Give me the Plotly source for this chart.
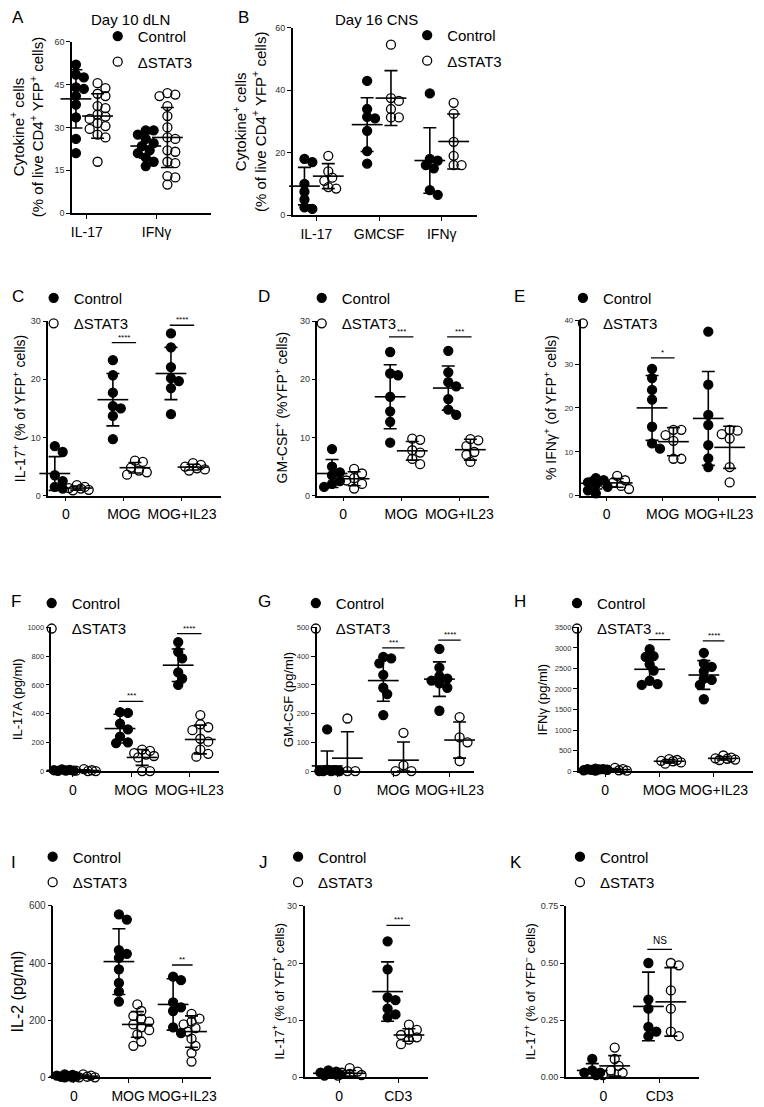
import plotly.graph_objects as go

W, H = 764, 1107
FONT = "Liberation Sans, Arial, Helvetica, sans-serif"

# ------------------------------------------------------------------ data
A_groups = ["IL-17", "IFNγ"]
A_ctrl = [[52, 48.5, 47.5, 44, 43.5, 41, 38, 33.5, 26, 21],
          [29, 29, 27.5, 26, 24.5, 23.5, 22, 21, 19.5, 18, 16.5]]
A_stat3 = [[45.5, 43.8, 41.8, 41, 37.5, 36.8, 34.5, 33.8, 33, 31.5, 30.5, 29.5, 27.5, 26.5, 18],
           [42, 41.5, 41, 37.5, 34, 30, 26.5, 26, 22, 21.5, 18, 17.5, 13, 12.5, 10]]
A_ctrl_mean, A_ctrl_sd = [40, 23.5], [10.2, 4.3]
A_stat3_mean, A_stat3_sd = [34, 26.5], [7.8, 10.5]

B_groups = ["IL-17", "GMCSF", "IFNγ"]
B_ctrl = [[18, 17, 10, 7.5, 5, 2.5, 2],
          [43, 34, 31.5, 31, 27, 20.5, 16.5],
          [39, 18, 17.5, 16, 15, 8, 6.5]]
B_stat3 = [[19, 14, 12, 11, 9, 8.5],
           [54.6, 37.5, 36.6, 34, 31.3, 31.3],
           [36, 32.5, 23.5, 19, 16, 16]]
B_ctrl_mean, B_ctrl_sd = [9.3, 29, 17.5], [6, 8.6, 10.5]
B_stat3_mean, B_stat3_sd = [12.5, 37.5, 23.6], [4, 8.8, 8.8]

STIM_groups = ["0", "MOG", "MOG+IL23"]

C_ctrl = [[8.5, 7.5, 3.5, 2.5, 1.5, 1.2, 1], [23.3, 20.7, 17.7, 15.4, 15, 13.7, 9.7],
          [27.9, 25.5, 22.1, 20.2, 19.7, 18.5, 14]]
C_stat3 = [[1.8, 1.5, 1.3, 1.2, 1.0, 0.9], [6, 5.8, 4.8, 4.3, 4, 3.6], [5.6, 5.3, 5, 4.7, 4.5, 4.3]]
C_ctrl_mean, C_ctrl_sd = [3.8, 16.5, 21], [2.9, 4.5, 4.5]
C_stat3_mean, C_stat3_sd = [1.3, 4.8, 4.9], [0.35, 0.9, 0.5]
C_sig = [(1, 26.3, "****"), (2, 29.3, "****")]

D_ctrl = [[8, 5, 4, 3.5, 2.5, 2, 1.5], [24.7, 21, 20.7, 17, 14.5, 12.7, 9.1],
          [24.9, 21.2, 19.5, 18.8, 16.6, 14.8, 13.9]]
D_stat3 = [[4.6, 3.8, 3, 2.6, 2, 1.2], [9.8, 9.6, 7.8, 7.4, 6.3, 5.4], [9.7, 9.5, 8.5, 7.5, 7.0, 5.8]]
D_ctrl_mean, D_ctrl_sd = [3.8, 17, 18.5], [2.4, 5.5, 3.8]
D_stat3_mean, D_stat3_sd = [2.9, 7.7, 7.9], [1.2, 1.6, 1.8]
D_sig = [(1, 27.3, "***"), (2, 27.3, "***")]

E_ctrl = [[4, 3.5, 3, 2.5, 2, 1.2, 0.5], [28.9, 26.8, 24.1, 21.9, 15.7, 11.9, 10.7],
          [37.4, 25.3, 18.4, 16.1, 11.5, 8.5, 6.5]]
E_stat3 = [[4.5, 3.5, 3, 2.7, 2.2, 1.5], [15, 15, 13.8, 12.5, 8.4, 8.4], [15, 14.8, 14, 13, 6.5, 3]]
E_ctrl_mean, E_ctrl_sd = [2.8, 20, 17.6], [1.3, 7.4, 10.7]
E_stat3_mean, E_stat3_sd = [2.9, 12.3, 11], [1.0, 3.2, 4.8]
E_sig = [(1, 31.4, "*")]

F_ctrl = [[12, 8, 6, 4, 3, 2, 0], [410, 405, 330, 290, 240, 200, 195], [898, 830, 784, 687, 644, 600]]
F_stat3 = [[14, 6, 3, 0, 0], [150, 140, 125, 115, 105, 95, 0, 0], [390, 325, 305, 285, 225, 205, 150, 120, 100]]
F_ctrl_mean, F_ctrl_sd = [5, 296, 737], [4, 100, 113]
F_stat3_mean, F_stat3_sd = [4, 95, 220], [5, 55, 100]
F_sig = [(1, 485, "***"), (2, 956, "****")]

G_ctrl = [[145, 5, 3, 0, 0, 0, 0, 0], [397, 392, 375, 335, 290, 268, 195],
          [425, 360, 330, 322, 315, 305, 290, 210]]
G_stat3 = [[183, 0, 0, 0], [133, 20, 0, 0], [188, 117, 100, 35]]
G_ctrl_mean, G_ctrl_sd = [18, 315, 320], [52, 72, 60]
G_stat3_mean, G_stat3_sd = [45, 38, 108], [92, 63, 63]
G_sig = [(1, 429, "***"), (2, 456, "****")]

H_ctrl = [[60, 50, 45, 40, 35, 30, 20, 10], [2970, 2800, 2780, 2600, 2450, 2200, 2120, 2100],
          [2880, 2620, 2540, 2430, 2250, 2220, 2100, 1750]]
H_stat3 = [[80, 50, 30, 20, 10], [290, 270, 250, 240, 210, 180], [380, 330, 310, 300, 280, 270]]
H_ctrl_mean, H_ctrl_sd = [30, 2480, 2340], [15, 340, 350]
H_stat3_mean, H_stat3_sd = [35, 240, 310], [25, 40, 40]
H_sig = [(1, 3200, "***"), (2, 3170, "****")]

I_ctrl = [[10, 8, 6, 4, 3, 2, 1, 0, 0], [570, 552, 445, 432, 418, 378, 330, 300, 265],
          [352, 340, 262, 245, 232, 175, 155]]
I_stat3 = [[10, 6, 4, 2, 0, 0], [255, 232, 215, 205, 195, 185, 175, 165, 150, 125, 110],
           [222, 205, 195, 185, 172, 160, 135, 110, 85, 55]]
I_ctrl_mean, I_ctrl_sd = [3, 405, 255], [4, 115, 90]
I_stat3_mean, I_stat3_sd = [4, 185, 160], [4, 45, 55]
I_sig = [(1, 607, "****"), (2, 393, "**")]

CD3_groups = ["0", "CD3"]
J_ctrl = [[1.2, 1.0, 0.8, 0.6, 0.5, 0.3], [23.8, 18.9, 14, 13.5, 12, 11, 10.5]]
J_stat3 = [[1.6, 1.0, 0.8, 0.6, 0.4, 0.3], [9.2, 8.3, 7.8, 7.4, 7, 6.6, 5.8]]
J_ctrl_mean, J_ctrl_sd = [0.7, 15], [0.35, 5.2]
J_stat3_mean, J_stat3_sd = [0.7, 7.4], [0.5, 1.1]
J_sig = [(1, 26.6, "***")]

K_ctrl = [[0.08, 0.03, 0.02, 0.02, 0.01], [0.5, 0.34, 0.3, 0.22, 0.2, 0.18]]
K_stat3 = [[0.13, 0.08, 0.05, 0.03, 0.02, 0.01], [0.5, 0.49, 0.38, 0.3, 0.2, 0.18]]
K_ctrl_mean, K_ctrl_sd = [0.03, 0.31], [0.03, 0.15]
K_stat3_mean, K_stat3_sd = [0.05, 0.33], [0.045, 0.15]
K_sig = [(1, 0.56, "NS")]

# ------------------------------------------------------------------ layout of panels (pixels)
PANELS = [
    dict(letter="A", groups=A_groups, ctrl=A_ctrl, st=A_stat3, cm=A_ctrl_mean, cs=A_ctrl_sd,
         sm=A_stat3_mean, ss=A_stat3_sd, sig=[], geom=(64, 205, 29, 202), xr=(-0.21, 1.78),
         off=0.155, ymax=60, yt=[0, 15, 30, 45, 60], ytf=9,
         title="Cytokine<sup>+</sup> cells<br>(% of live CD4<sup>+</sup> YFP<sup>+</sup> cells)",
         tx=18, tfs=15, lp=(1, 5), leg=(110, 21)),
    dict(letter="B", groups=B_groups, ctrl=B_ctrl, st=B_stat3, cm=B_ctrl_mean, cs=B_ctrl_sd,
         sm=B_stat3_mean, ss=B_stat3_sd, sig=[], geom=(288, 475, 15, 204), xr=(-0.375, 2.565),
         off=0.19, ymax=60, yt=[0, 20, 40, 60], ytf=9,
         title="Cytokine<sup>+</sup> cells<br>(% of live CD4<sup>+</sup> YFP<sup>+</sup> cells)",
         tx=244, tfs=15, lp=(230, 5), leg=(424, 20)),
    dict(letter="C", groups=STIM_groups, ctrl=C_ctrl, st=C_stat3, cm=C_ctrl_mean, cs=C_ctrl_sd,
         sm=C_stat3_mean, ss=C_stat3_sd, sig=C_sig, geom=(40, 215, 311, 487), xr=(-0.30, 2.67),
         off=0.19, ymax=30, yt=[0, 10, 20, 30], ytf=9,
         title="IL-17<sup>+</sup> (% of YFP<sup>+</sup> cells)", tx=11, tfs=14, lp=(1, 286), leg=(45, 285)),
    dict(letter="D", groups=STIM_groups, ctrl=D_ctrl, st=D_stat3, cm=D_ctrl_mean, cs=D_ctrl_sd,
         sm=D_stat3_mean, ss=D_stat3_sd, sig=D_sig, geom=(313, 487, 311, 487), xr=(-0.44, 2.51),
         off=0.19, ymax=30, yt=[0, 10, 20, 30], ytf=9,
         title="GM-CSF<sup>+</sup> (%YFP<sup>+</sup> cells)", tx=276, tfs=14, lp=(251, 286), leg=(317, 285)),
    dict(letter="E", groups=STIM_groups, ctrl=E_ctrl, st=E_stat3, cm=E_ctrl_mean, cs=E_ctrl_sd,
         sm=E_stat3_mean, ss=E_stat3_sd, sig=E_sig, geom=(580, 758, 310, 487), xr=(-0.46, 2.66),
         off=0.19, ymax=40, yt=[0, 10, 20, 30, 40], ytf=8,
         title="% IFNγ<sup>+</sup> (of YFP<sup>+</sup> cells)", tx=549, tfs=14, lp=(510, 286), leg=(582, 285)),
    dict(letter="F", groups=STIM_groups, ctrl=F_ctrl, st=F_stat3, cm=F_ctrl_mean, cs=F_ctrl_sd,
         sm=F_stat3_mean, ss=F_stat3_sd, sig=F_sig, geom=(43, 213, 620, 765), xr=(-0.37, 2.51),
         off=0.19, ymax=1000, yt=[0, 200, 400, 600, 800, 1000], ytf=7.5,
         title="IL-17A (pg/ml)", tx=8, tfs=13, lp=(0, 594), leg=(43, 593)),
    dict(letter="G", groups=STIM_groups, ctrl=G_ctrl, st=G_stat3, cm=G_ctrl_mean, cs=G_ctrl_sd,
         sm=G_stat3_mean, ss=G_stat3_sd, sig=G_sig, geom=(312, 472, 620, 765), xr=(-0.37, 2.44),
         off=0.18, ymax=500, yt=[0, 100, 200, 300, 400, 500], ytf=7.5,
         title="GM-CSF (pg/ml)", tx=283, tfs=13, lp=(251, 594), leg=(311, 593)),
    dict(letter="H", groups=STIM_groups, ctrl=H_ctrl, st=H_stat3, cm=H_ctrl_mean, cs=H_ctrl_sd,
         sm=H_stat3_mean, ss=H_stat3_sd, sig=H_sig, geom=(578, 755, 620, 765), xr=(-0.49, 2.73),
         off=0.18, ymax=3500, yt=[0, 500, 1000, 1500, 2000, 2500, 3000, 3500], ytf=7.5,
         title="IFNγ (pg/ml)", tx=541, tfs=13, lp=(510, 594), leg=(576, 593)),
    dict(letter="I", groups=STIM_groups, ctrl=I_ctrl, st=I_stat3, cm=I_ctrl_mean, cs=I_ctrl_sd,
         sm=I_stat3_mean, ss=I_stat3_sd, sig=I_sig, geom=(45, 205, 901, 1074), xr=(-0.38, 2.53),
         off=0.17, ymax=600, yt=[0, 200, 400, 600], ytf=10,
         title="IL-2 (pg/ml)", tx=9, tfs=16, lp=(0, 857), leg=(44, 849)),
    dict(letter="J", groups=CD3_groups, ctrl=J_ctrl, st=J_stat3, cm=J_ctrl_mean, cs=J_ctrl_sd,
         sm=J_stat3_mean, ss=J_stat3_sd, sig=J_sig, geom=(300, 425, 901, 1074), xr=(-0.58, 1.50),
         off=0.18, ymax=30, yt=[0, 10, 20, 30], ytf=9,
         title="IL-17<sup>+</sup> (% of YFP<sup>+</sup> cells)", tx=273, tfs=13, lp=(252, 857), leg=(293, 849)),
    dict(letter="K", groups=CD3_groups, ctrl=K_ctrl, st=K_stat3, cm=K_ctrl_mean, cs=K_ctrl_sd,
         sm=K_stat3_mean, ss=K_stat3_sd, sig=K_sig, geom=(565, 700, 901, 1074), xr=(-0.67, 1.70),
         off=0.2, ymax=0.75, yt=[0, 0.25, 0.5, 0.75], ytext=["0.00", "0.25", "0.50", "0.75"], ytf=9,
         title="IL-17<sup>+</sup> (% of YFP<sup>−</sup> cells)", tx=528, tfs=13, lp=(506, 857), leg=(579, 849)),
]

TITLES = [("Day 10 dLN", 123, 7), ("Day 16 CNS", 373, 7)]


def px_x(v):
    return v / W


def px_y(v):
    return 1 - v / H


def swarm(vals, center, ppx, ppy, d=8.0):
    """simple beeswarm: spread overlapping points sideways (pixels)"""
    order = sorted(range(len(vals)), key=lambda i: -vals[i])
    steps = [0, 0.5 * d, -0.5 * d, d, -d, 1.5 * d, -1.5 * d]
    placed, out = [], [center] * len(vals)
    for i in order:
        yp = vals[i] * ppy
        best, bestd = 0, -1
        for s in steps:
            md = min([((s - a) ** 2 + (yp - b) ** 2) ** 0.5 for a, b in placed] or [1e9])
            if md >= 0.92 * d:
                best = s
                break
            if md > bestd:
                best, bestd = s, md
        placed.append((best, yp))
        out[i] = center + best / ppx
    return out


fig = go.Figure()
annotations, shapes = [], []
layout = {}

for n, p in enumerate(PANELS, start=1):
    sfx = "" if n == 1 else str(n)
    xa, ya = "x" + sfx, "y" + sfx
    legname = "legend" + sfx
    xl, xr, ytop, ybot = p["geom"]
    r0, r1 = p["xr"]
    ppx = (xr - xl) / (r1 - r0)
    ppy = (ybot - ytop) / p["ymax"]
    off = p["off"]

    series = [(p["ctrl"], p["cm"], p["cs"], "Control", "circle", -1),
              (p["st"], p["sm"], p["ss"], "ΔSTAT3", "circle-open", 1)]
    for vals, mean, sd, name, sym, sign in series:
        xs, ys = [], []
        for gi, v in enumerate(vals):
            xs += swarm(v, gi + sign * off, ppx, ppy)
            ys += v
        fig.add_trace(go.Scatter(
            x=xs, y=ys, mode="markers", name=name, legend=legname, legendgroup=f"{n}{name}",
            xaxis=xa, yaxis=ya, cliponaxis=False, hoverinfo="skip",
            marker=dict(symbol=sym, size=9, color="black", line=dict(color="black", width=1.3))))
    for vals, mean, sd, name, sym, sign in series:
        gx = [gi + sign * off for gi in range(len(mean))]
        fig.add_trace(go.Scatter(
            x=gx, y=mean, mode="markers", showlegend=False, xaxis=xa, yaxis=ya, cliponaxis=False,
            hoverinfo="skip",
            marker=dict(symbol="line-ew", size=22, color="black", line=dict(color="black", width=1.6)),
            error_y=dict(type="data", array=sd, arrayminus=[min(s, m) for s, m in zip(sd, mean)],
                         visible=True, color="black", thickness=1.6, width=6.5)))

    for gi, yv, txt in p["sig"]:
        shapes.append(dict(type="line", xref=xa, yref=ya, x0=gi - off - 0.02, x1=gi + off + 0.02,
                           y0=yv, y1=yv, line=dict(color="black", width=1.3)))
        annotations.append(dict(xref=xa, yref=ya, x=gi, y=yv, text=txt, showarrow=False,
                                yanchor="bottom", yshift=-1 if txt != "NS" else 1,
                                font=dict(size=8 if txt != "NS" else 10, family=FONT, color="black")))

    layout["xaxis" + sfx] = dict(
        domain=[px_x(xl), px_x(xr)], anchor=ya, range=[r0, r1],
        tickmode="array", tickvals=list(range(len(p["groups"]))), ticktext=p["groups"],
        showline=True, linecolor="black", linewidth=1.5, ticks="outside", ticklen=4, tickwidth=1.3,
        tickcolor="black", showgrid=False, zeroline=False, ticklabelstandoff=1,
        tickfont=dict(size=14, family=FONT, color="black"), fixedrange=True)
    layout["yaxis" + sfx] = dict(
        domain=[px_y(ybot), px_y(ytop)], anchor=xa, range=[0, p["ymax"]],
        tickmode="array", tickvals=p["yt"], ticktext=p.get("ytext", [str(t) for t in p["yt"]]),
        showline=True, linecolor="black", linewidth=1.5, ticks="outside", ticklen=4, tickwidth=1.3,
        tickcolor="black", showgrid=False, zeroline=False,
        tickfont=dict(size=p["ytf"], family=FONT, color="#333"), fixedrange=True)

    lx, ly = p["leg"]
    layout[legname] = dict(
        x=px_x(lx - 20), y=px_y(ly - 14), xanchor="left", yanchor="top",
        font=dict(size=15, family=FONT, color="black"), bgcolor="rgba(0,0,0,0)",
        borderwidth=0, itemwidth=30, tracegroupgap=3)

    annotations.append(dict(xref="paper", yref="paper", x=px_x(p["tx"]),
                            y=px_y((ytop + ybot) / 2), text=p["title"], textangle=-90,
                            showarrow=False, xanchor="center", yanchor="middle",
                            font=dict(size=p["tfs"], family=FONT, color="black")))
    annotations.append(dict(xref="paper", yref="paper", x=px_x(p["lp"][0]), y=px_y(p["lp"][1]),
                            text=p["letter"], showarrow=False, xanchor="left", yanchor="middle",
                            font=dict(size=17, family=FONT, color="black")))

for txt, x, y in TITLES:
    annotations.append(dict(xref="paper", yref="paper", x=px_x(x), y=px_y(y), text=txt,
                            showarrow=False, xanchor="center", yanchor="middle",
                            font=dict(size=15, family=FONT, color="black")))

fig.update_layout(
    width=W, height=H, margin=dict(l=0, r=0, t=0, b=0),
    paper_bgcolor="white", plot_bgcolor="white",
    font=dict(family=FONT, color="black"),
    annotations=annotations, shapes=shapes, **layout)

fig.write_html("out.html")
